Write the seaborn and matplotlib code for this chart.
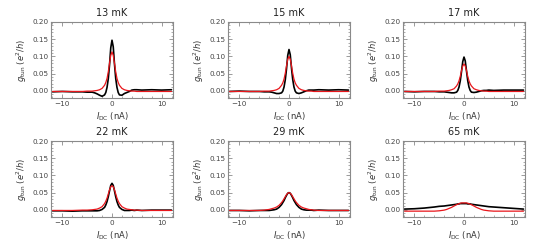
from matplotlib import pyplot as plt
from matplotlib.ticker import MultipleLocator
import numpy as np
import seaborn as sns
import pandas as pd

# bias current grid (nA), denser near the peak
current_nA = [-12, -10, -8, -6, -5, -4, -3.5, -3, -2.5, -2, -1.5, -1.25, -1, -0.75, -0.5, -0.25, 0,
              0.25, 0.5, 0.75, 1, 1.25, 1.5, 2, 2.5, 3, 3.5, 4, 4.5, 5, 6, 8, 10, 12]

temps = ['13 mK', '15 mK', '17 mK', '22 mK', '29 mK', '65 mK']

# measured g_tun (black)
meas_13 = [-0.003, -0.002, -0.003, -0.003, -0.004, -0.004, -0.006, -0.009, -0.013, -0.016, -0.012, -0.005, 0.010,
           0.035, 0.075, 0.125, 0.147, 0.128, 0.078, 0.036, 0.010, -0.005, -0.012, -0.013, -0.008, -0.005, -0.002,
           0.002, 0.003, 0.003, 0.002, 0.003, 0.002, 0.003]
meas_15 = [-0.002, -0.001, -0.002, -0.002, -0.003, -0.003, -0.004, -0.006, -0.008, -0.008, -0.006, -0.001, 0.011,
           0.032, 0.064, 0.103, 0.120, 0.105, 0.066, 0.033, 0.011, -0.001, -0.006, -0.008, -0.006, -0.003, 0.000,
           0.002, 0.002, 0.002, 0.003, 0.002, 0.003, 0.002]
meas_17 = [-0.002, -0.003, -0.002, -0.002, -0.003, -0.003, -0.004, -0.005, -0.006, -0.006, -0.004, 0.001, 0.011,
           0.029, 0.056, 0.085, 0.098, 0.087, 0.058, 0.030, 0.011, 0.001, -0.004, -0.005, -0.004, -0.002, 0.000,
           0.001, 0.001, 0.002, 0.001, 0.002, 0.002, 0.002]
meas_22 = [-0.003, -0.003, -0.004, -0.003, -0.003, -0.003, -0.003, -0.003, -0.002, 0.001, 0.007, 0.014, 0.024,
           0.038, 0.055, 0.071, 0.077, 0.071, 0.055, 0.038, 0.024, 0.014, 0.007, 0.001, -0.002, -0.002, -0.002,
           -0.001, -0.002, -0.001, -0.002, -0.001, -0.001, -0.001]
meas_29 = [-0.002, -0.002, -0.003, -0.002, -0.002, -0.002, -0.001, 0.000, 0.002, 0.007, 0.015, 0.021, 0.027,
           0.035, 0.042, 0.048, 0.050, 0.048, 0.042, 0.035, 0.027, 0.021, 0.015, 0.007, 0.002, 0.000, -0.001,
           -0.001, -0.001, -0.002, -0.001, -0.002, -0.002, -0.002]
meas_65 = [0.002, 0.003, 0.005, 0.008, 0.010, 0.011, 0.012, 0.013, 0.014, 0.015, 0.016, 0.017, 0.017,
           0.018, 0.018, 0.018, 0.018, 0.018, 0.018, 0.017, 0.017, 0.017, 0.016, 0.015, 0.014, 0.013, 0.012,
           0.011, 0.010, 0.009, 0.008, 0.006, 0.004, 0.002]

# fits (red)
fit_13 = [-0.002, -0.002, -0.002, -0.002, -0.001, -0.001, 0.000, 0.001, 0.003, 0.007, 0.016, 0.024, 0.036,
          0.055, 0.080, 0.103, 0.113, 0.103, 0.080, 0.055, 0.036, 0.024, 0.016, 0.007, 0.003, 0.001, 0.000,
          -0.001, -0.001, -0.002, -0.002, -0.002, -0.002, -0.002]
fit_15 = [-0.002, -0.002, -0.002, -0.002, -0.001, -0.001, 0.000, 0.001, 0.003, 0.007, 0.016, 0.023, 0.034,
          0.051, 0.073, 0.092, 0.100, 0.092, 0.073, 0.051, 0.034, 0.023, 0.016, 0.007, 0.003, 0.001, 0.000,
          -0.001, -0.001, -0.002, -0.002, -0.002, -0.002, -0.002]
fit_17 = [-0.002, -0.002, -0.002, -0.002, -0.001, -0.001, 0.000, 0.001, 0.003, 0.006, 0.014, 0.020, 0.029,
          0.042, 0.059, 0.072, 0.078, 0.072, 0.059, 0.042, 0.029, 0.020, 0.014, 0.006, 0.003, 0.001, 0.000,
          -0.001, -0.001, -0.002, -0.002, -0.002, -0.002, -0.002]
fit_22 = [-0.002, -0.002, -0.002, -0.001, -0.001, 0.000, 0.001, 0.002, 0.005, 0.009, 0.018, 0.025, 0.034,
          0.046, 0.058, 0.067, 0.070, 0.067, 0.058, 0.046, 0.034, 0.025, 0.018, 0.009, 0.005, 0.002, 0.001,
          0.000, -0.001, -0.001, -0.002, -0.002, -0.002, -0.002]
fit_29 = [-0.002, -0.002, -0.002, -0.002, -0.001, 0.001, 0.003, 0.005, 0.008, 0.013, 0.021, 0.026, 0.032,
          0.038, 0.044, 0.048, 0.050, 0.048, 0.044, 0.038, 0.032, 0.026, 0.021, 0.013, 0.008, 0.005, 0.003,
          0.001, 0.000, -0.001, -0.002, -0.002, -0.002, -0.002]
fit_65 = [-0.004, -0.004, -0.004, -0.004, -0.003, -0.001, 0.001, 0.004, 0.007, 0.011, 0.015, 0.016, 0.018,
          0.019, 0.020, 0.020, 0.020, 0.020, 0.020, 0.019, 0.018, 0.016, 0.015, 0.011, 0.007, 0.004, 0.001,
          -0.001, -0.002, -0.003, -0.004, -0.004, -0.004, -0.004]

measured = [meas_13, meas_15, meas_17, meas_22, meas_29, meas_65]
fits = [fit_13, fit_15, fit_17, fit_22, fit_29, fit_65]

sns.set_style("ticks")
plt.rcParams['font.family'] = ['DejaVu Sans']

W, H = 545, 252
fig = plt.figure(figsize=(W / 100, H / 100), dpi=100)

lefts = [51, 228, 403]
tops = [22, 141]
aw, ah = 122, 76
frame_col = '#8a8a8a'

for i, temp in enumerate(temps):
    r, c = divmod(i, 3)
    ax = fig.add_axes([lefts[c] / W, 1 - (tops[r] + ah) / H, aw / W, ah / H])
    df = pd.DataFrame({'I': current_nA, 'meas': measured[i], 'fit': fits[i]})
    sns.lineplot(data=df, x='I', y='meas', ax=ax, color='black', lw=1.2)
    sns.lineplot(data=df, x='I', y='fit', ax=ax, color='#e8161b', lw=0.9)
    ax.set_xlim(-12.3, 12.3)
    ax.set_ylim(-0.021, 0.2)
    ax.xaxis.set_major_locator(MultipleLocator(10))
    ax.xaxis.set_minor_locator(MultipleLocator(2))
    ax.yaxis.set_major_locator(MultipleLocator(0.05))
    ax.yaxis.set_minor_locator(MultipleLocator(0.01))
    ax.yaxis.set_major_formatter(plt.FormatStrFormatter('%.2f'))
    ax.tick_params(which='both', direction='in', top=True, right=True, colors=frame_col,
                   labelcolor='#444444', labelsize=5.2, pad=2)
    ax.tick_params(which='major', length=3, width=0.6)
    ax.tick_params(which='minor', length=1.5, width=0.5)
    for s in ax.spines.values():
        s.set_color(frame_col)
        s.set_linewidth(0.8)
    ax.set_title(temp, fontsize=7, pad=4, color='#222222')
    ax.set_xlabel(r'$I_{\rm DC}$ (nA)', fontsize=6, labelpad=3, color='#333333')
    ax.set_ylabel(r'$g_{\rm tun}$ ($e^2/h$)', fontsize=6, labelpad=2, color='#333333')

fig.savefig('out.png', dpi=100)
